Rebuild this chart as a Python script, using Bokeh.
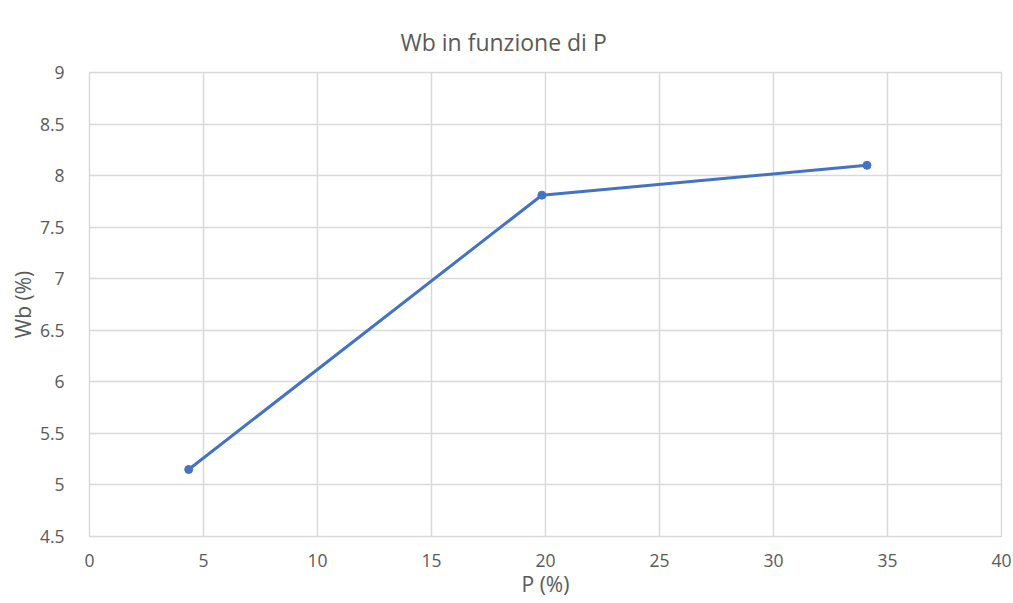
from bokeh.plotting import figure
from bokeh.models import Range1d, FixedTicker
from bokeh.embed import file_html
from bokeh.resources import INLINE

p_pct = [4.35, 19.84, 34.1]
wb_pct = [5.15, 7.81, 8.10]
x_ticks = [0, 5, 10, 15, 20, 25, 30, 35, 40]
y_ticks = [4.5, 5, 5.5, 6, 6.5, 7, 7.5, 8, 8.5, 9]
title_text = "Wb in funzione di P"
x_label = "P (%)"
y_label = "Wb (%)"

FONT = "Open Sans"
TXT = "#595959"
GRID = "#D9D9D9"
BLUE = "#4472C4"

p = figure(width=1013, height=603, output_backend="svg", toolbar_location=None,
           x_range=Range1d(0, 40), y_range=Range1d(4.5, 9),
           title=title_text,
           min_border_left=89, min_border_right=12, min_border_top=72, min_border_bottom=67)

p.title.align = "left"
p.title.offset = 311
p.title.text_font = FONT
p.title.text_font_size = "23px"
p.title.text_font_style = "normal"
p.title.text_color = TXT
p.title.standoff = 30

p.line(p_pct, wb_pct, line_color=BLUE, line_width=3)
p.scatter(p_pct, wb_pct, size=8, fill_color=BLUE, line_color=BLUE)

for ax in (p.xaxis[0], p.yaxis[0]):
    ax.axis_line_color = None
    ax.major_tick_line_color = None
    ax.minor_tick_line_color = None
    ax.major_label_text_font = FONT
    ax.major_label_text_font_size = "17.5px"
    ax.major_label_text_color = TXT
    ax.axis_label_text_font = FONT
    ax.axis_label_text_font_size = "21px"
    ax.axis_label_text_font_style = "normal"
    ax.axis_label_text_color = TXT

p.xaxis.ticker = FixedTicker(ticks=x_ticks)
p.yaxis.ticker = FixedTicker(ticks=y_ticks)
p.xaxis.axis_label = x_label
p.yaxis.axis_label = y_label
p.xaxis.major_label_standoff = 11
p.yaxis.major_label_standoff = 19
p.xaxis.axis_label_standoff = 0
p.yaxis.axis_label_standoff = 0

p.xgrid.grid_line_color = GRID
p.ygrid.grid_line_color = GRID
p.xgrid.grid_line_width = 1.5
p.ygrid.grid_line_width = 1.5
p.outline_line_color = GRID
p.outline_line_width = 1.5

open("out.html", "w").write(file_html(p, INLINE))
